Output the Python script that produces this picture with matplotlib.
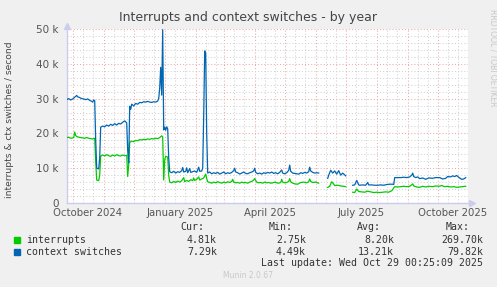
import numpy as np
import matplotlib
matplotlib.use('Agg')
import matplotlib.pyplot as plt
import matplotlib.dates as mdates
import matplotlib.transforms as mtransforms
from matplotlib.patches import Rectangle
from matplotlib.ticker import MultipleLocator, FuncFormatter

# day offsets from 2024-10-01, values per second (k)
ctx_days = [-6, -4, -2, 0, 2, 4, 5, 7, 9, 11, 13, 15, 17, 19, 20, 21, 22, 23, 24, 26, 27,
            28, 30, 32, 34, 36, 38, 40, 42, 44, 46, 48, 50, 52, 54, 55, 56,
            57, 58, 59, 61, 63, 65, 67, 69, 71, 73, 75, 77, 79, 81, 83, 85, 86, 87, 88, 89, 90,
            91, 92, 93, 94, 95, 96, 97, 99, 101, 103, 105, 107, 109, 110, 111, 113, 114, 115,
            117, 118, 120, 122, 124, 126, 127, 129, 130, 131, 132, 133, 134, 135, 137, 139, 141,
            143, 145, 147, 149, 151, 153, 155, 157, 159, 161, 162, 163, 165, 167, 169, 171, 173,
            175, 177, 179, 181, 182, 183, 185, 187, 189, 191, 193, 195, 197, 199, 201, 203, 205,
            207, 209, 210, 212, 214, 216, 217, 218, 220, 222, 224, 226, 228, 230, 232, 234, 236,
            237, 238, 240, 242, 244, 246, 247,
            255, 256, 258, 260, 262, 264, 266, 268, 270, 273, 274,
            280, 282, 284, 286, 287, 290, 293, 295, 296, 299, 302, 305, 308, 311, 314, 317, 320,
            321, 322, 325, 328, 331, 334, 337, 339, 340, 341, 343, 345, 347, 350, 353, 356, 360,
            363, 367, 370, 373, 375, 378, 380, 382, 384, 386, 387, 389, 391, 393]
ctx_vals = [29.7, 30.0, 29.6, 29.9, 30.4, 30.9, 30.5, 30.3, 30.0, 29.9, 29.7, 29.9, 29.5, 29.2, 29.0, 29.6, 29.4, 18.0, 10.0, 9.8, 13.0,
            21.8, 22.1, 21.9, 22.4, 22.1, 22.6, 22.3, 22.8, 22.4, 22.9, 22.7, 23.2, 23.6, 23.0, 15.0, 11.5,
            27.8, 26.9, 28.4, 27.9, 28.6, 28.4, 28.9, 28.8, 29.1, 29.0, 29.2, 29.0, 28.9, 29.1, 29.0, 29.3, 30.0, 33.0, 39.0, 31.0, 49.8,
            21.0, 21.8, 20.9, 21.9, 21.3, 13.0, 9.0, 8.7, 9.1, 8.6, 9.0, 8.8, 9.3, 10.2, 8.9, 9.1, 10.1, 8.7,
            9.9, 8.8, 9.0, 9.2, 8.8, 10.3, 9.1, 9.2, 10.0, 25.0, 43.7, 43.0, 20.0, 8.6, 8.9, 8.4, 8.7,
            8.5, 8.8, 8.3, 8.6, 8.9, 8.4, 8.7, 8.5, 8.8, 9.3, 10.0, 8.9, 8.7, 8.3, 8.6, 8.9, 8.5,
            8.4, 8.7, 8.9, 9.2, 10.0, 8.8, 8.4, 8.6, 8.3, 8.7, 8.5, 8.8, 8.6, 8.9, 8.5, 8.7, 8.4,
            8.8, 9.5, 8.6, 8.4, 8.7, 9.4, 10.9, 9.1, 8.6, 8.5, 8.4, 8.3, 8.7, 8.5, 8.8, 8.6, 9.0,
            10.3, 9.2, 8.8, 8.6, 8.7, 8.6, np.nan,
            7.1, 8.0, 9.4, 8.6, 9.2, 8.3, 9.3, 8.0, 8.6, 7.8, np.nan,
            5.1, 5.2, 6.5, 5.2, 5.1, 5.2, 5.1, 5.9, 5.2, 5.2, 5.1, 5.1, 5.2, 5.1, 5.3, 5.4, 5.4,
            5.3, 7.3, 7.3, 7.3, 7.4, 7.3, 7.5, 8.0, 8.6, 7.6, 7.3, 7.5, 7.0, 7.2, 6.8, 7.2, 7.1,
            7.3, 7.3, 6.9, 7.1, 7.6, 7.5, 7.8, 7.6, 7.9, 7.4, 7.2, 6.8, 6.9, 7.29]

irq_days = [-6, -4, -2, 0, 1, 2, 3, 4, 6, 8, 10, 12, 14, 16, 18, 20, 22, 23, 24, 26, 27,
            28, 30, 32, 34, 36, 38, 40, 42, 44, 46, 48, 50, 52, 54, 55, 56,
            57, 59, 61, 63, 65, 67, 69, 71, 73, 75, 77, 79, 81, 83, 85, 87, 89, 90,
            91, 92, 93, 95, 96, 97, 99, 101, 103, 105, 107, 109, 111, 112, 114, 116, 118, 120,
            121, 122, 124, 126, 127, 129, 131, 133, 134, 135, 137, 139, 141, 143, 145, 147, 149,
            151, 153, 155, 157, 159, 160, 161, 163, 165, 167, 169, 171, 173, 175, 177, 179, 181,
            182, 184, 186, 188, 190, 192, 194, 196, 198, 200, 202, 204, 206, 208, 209, 210, 212,
            214, 216, 217, 218, 220, 222, 225, 228, 231, 234, 236, 237, 238, 240, 243, 246, 247,
            255, 257, 259, 260, 262, 265, 268, 271, 273, 274,
            280, 282, 284, 286, 289, 292, 295, 298, 301, 304, 307, 310, 313, 316, 318, 319,
            322, 325, 328, 331, 334, 337, 339, 340, 341, 344, 347, 350, 353, 356, 360, 363, 366,
            369, 372, 375, 378, 381, 384, 387, 390, 393]
irq_vals = [18.8, 18.9, 18.6, 18.7, 18.8, 20.4, 19.4, 19.1, 18.9, 18.8, 18.7, 18.6, 18.8, 18.6, 18.5, 18.4, 18.6, 12.0, 6.6, 6.4, 8.0,
            13.5, 13.8, 13.5, 13.9, 13.6, 13.4, 13.8, 13.5, 13.9, 13.6, 13.5, 13.8, 13.6, 13.7, 7.6, 11.0,
            17.4, 17.8, 17.6, 18.0, 17.9, 18.2, 18.1, 18.3, 18.2, 18.4, 18.3, 18.5, 18.4, 18.6, 18.5, 18.8, 19.3, 19.0,
            6.6, 12.5, 13.4, 13.2, 8.0, 6.0, 5.8, 6.2, 5.9, 6.3, 6.0, 6.4, 7.3, 6.1, 6.5, 6.2, 6.7, 6.4,
            7.2, 6.5, 6.8, 7.5, 6.6, 6.9, 7.2, 8.3, 7.0, 6.1, 5.9, 5.7, 6.0, 5.8, 6.1, 5.9, 5.7,
            6.0, 5.8, 6.1, 5.9, 6.2, 6.8, 6.0, 5.8, 5.9, 5.7, 6.0, 5.8, 5.9, 5.7, 6.0, 6.2, 6.6,
            7.0, 6.0, 5.8, 5.9, 5.7, 6.0, 5.8, 5.9, 5.7, 5.8, 6.0, 5.8, 5.7, 5.9, 6.8, 6.0, 5.8,
            5.9, 6.2, 7.0, 6.1, 5.7, 5.5, 5.4, 5.9, 6.0, 5.8, 6.1, 6.9, 6.2, 5.9, 6.0, 5.7, np.nan,
            4.5, 4.8, 6.1, 5.8, 5.0, 5.1, 4.9, 4.8, 4.7, np.nan,
            3.1, 3.0, 4.0, 3.3, 3.2, 3.1, 3.4, 3.2, 3.0, 3.1, 3.0, 3.1, 3.2, 3.1, 3.4, 3.5,
            4.7, 4.6, 4.7, 4.8, 4.7, 4.8, 5.2, 5.5, 4.9, 4.6, 4.5, 4.8, 4.6, 4.8, 4.7, 4.9, 4.8,
            5.0, 4.7, 4.8, 4.6, 4.7, 4.5, 4.6, 4.7, 4.81]

series_names = ['interrupts', 'context switches']
series_colors = ['#00CC00', '#0066B3']
cur_vals = ['4.81k', '7.29k']
min_vals = ['2.75k', '4.49k']
avg_vals = ['8.20k', '13.21k']
max_vals = ['269.70k', '79.82k']
x_labels = ['October 2024', 'January 2025', 'April 2025', 'July 2025', 'October 2025']
x_label_dates = ['2024-10-16', '2025-01-16', '2025-04-16', '2025-07-16', '2025-10-16']

W, H = 497, 287
def px(x):
    return x / W
def py(y):
    return 1 - y / H

base = np.datetime64('2024-10-01')
def to_dates(days):
    return (base + np.array(days, dtype='timedelta64[D]')).astype('datetime64[s]').astype(object)

fig = plt.figure(figsize=(W / 100, H / 100), dpi=100, facecolor='#F0F0F0')
ax = fig.add_axes([px(67), py(203), px(468) - px(67), py(29) - py(203)])
ax.set_facecolor('white')

ax.plot(to_dates(irq_days), np.array(irq_vals) * 1000, color=series_colors[0], lw=0.9, zorder=3)
ax.plot(to_dates(ctx_days), np.array(ctx_vals) * 1000, color=series_colors[1], lw=0.9, zorder=3)

x0 = mdates.date2num(base)
ax.set_xlim(x0 - 5.7, x0 + 395.3)
ax.set_ylim(0, 50000)

ax.xaxis.set_major_locator(mdates.MonthLocator())
ax.xaxis.set_minor_locator(mdates.MonthLocator(bymonthday=[11, 21]))
ax.yaxis.set_major_locator(MultipleLocator(10000))
ax.yaxis.set_minor_locator(MultipleLocator(2000))
ax.yaxis.set_major_formatter(FuncFormatter(lambda v, p: '0' if v == 0 else '%d k' % (v / 1000)))
ax.set_xticklabels([])
ax.tick_params(axis='x', which='both', length=0)
ax.tick_params(axis='y', which='both', length=0, labelsize=7.5, labelcolor='#555555', pad=6)

ax.grid(which='minor', color='#D2D2D2', lw=0.75, ls=(0, (1, 2)))
ax.grid(which='major', color='#F0A8A8', lw=0.75, ls=(0, (1, 2)))
ax.set_axisbelow(True)

for s in ['top', 'right']:
    ax.spines[s].set_visible(False)
for s in ['left', 'bottom']:
    ax.spines[s].set_color('#CCCCEE')
    ax.spines[s].set_linewidth(1.0)
ax.plot([0], [1.02], marker='^', color='#CCCCEE', ms=5, transform=ax.transAxes, clip_on=False)
ax.plot([1.01], [0], marker='>', color='#CCCCEE', ms=5, transform=ax.transAxes, clip_on=False)

lab_tr = mtransforms.blended_transform_factory(ax.transData, fig.transFigure)
for lab, d in zip(x_labels, x_label_dates):
    ax.text(mdates.date2num(np.datetime64(d)), py(213), lab, transform=lab_tr,
            ha='center', va='center', fontsize=7.3, color='#555555', clip_on=False)

fig.text(px(248), py(17), 'Interrupts and context switches - by year', ha='center', va='center',
         fontsize=9.0, color='#444444')
fig.text(px(10), py(120), 'interrupts & ctx switches / second', rotation=90, ha='center', va='center',
         fontsize=6.6, color='#444444')
fig.text(px(493), py(58), 'RRDTOOL / TOBI OETIKER', rotation=270, ha='center', va='center',
         fontsize=5.5, color='#C8C8C8')

mono = dict(family='DejaVu Sans Mono', fontsize=7.1, color='#333333', va='center')
for hdr, xr in zip(['Cur:', 'Min:', 'Avg:', 'Max:'], [204, 293, 381, 470]):
    fig.text(px(xr), py(227), hdr, ha='right', **mono)
rows_y = [240, 252]
for i in range(2):
    fig.patches.append(Rectangle((px(14), py(rows_y[i] + 3)), px(6), 6 / H,
                                 transform=fig.transFigure, color=series_colors[i]))
    fig.text(px(26.5), py(rows_y[i]), series_names[i], ha='left', **mono)
    for v, xr in zip([cur_vals[i], min_vals[i], avg_vals[i], max_vals[i]], [217, 306, 394, 483]):
        fig.text(px(xr), py(rows_y[i]), v, ha='right', **mono)
fig.text(px(483), py(263.5), 'Last update: Wed Oct 29 00:25:09 2025', ha='right', **mono)
fig.text(px(248), py(276), 'Munin 2.0.67', ha='center', va='center', fontsize=5.5, color='#C8C8C8')

fig.savefig('out.png', dpi=100, facecolor=fig.get_facecolor())
